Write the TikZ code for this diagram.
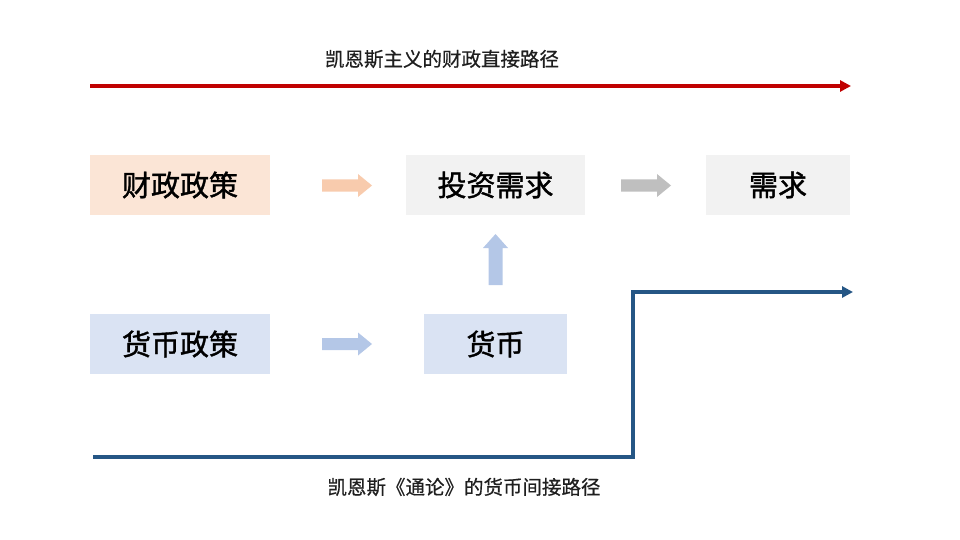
\documentclass[tikz,border=0pt]{standalone}
\usepackage{fontspec}
\newfontfamily\cjkbox[FakeBold=1.3]{Noto Sans CJK SC}
\newfontfamily\cjklab[FakeBold=0.6]{Noto Sans CJK SC}
\usetikzlibrary{arrows.meta}
\definecolor{peachbox}{HTML}{FBE5D6}
\definecolor{peacharr}{HTML}{F8CBAD}
\definecolor{graybox}{HTML}{F2F2F2}
\definecolor{grayarr}{HTML}{BFBFBF}
\definecolor{bluebox}{HTML}{DAE3F3}
\definecolor{bluearr}{HTML}{B4C7E7}
\definecolor{redline}{HTML}{C00000}
\definecolor{navyline}{HTML}{255685}
\tikzset{
  boxnode/.style={minimum height=60pt, inner sep=0pt, font=\cjkbox\fontsize{29}{34}\selectfont, text=black},
  pathlabel/.style={font=\cjklab\fontsize{19.5}{24}\selectfont, text=black!88, inner sep=0pt},
  bigline/.style={line width=3.6pt, -{Triangle[length=11pt,width=11pt]}},
}
\begin{document}
\begin{tikzpicture}[x=1pt,y=-1pt]
\useasboundingbox (0,0) rectangle (960,540);
% boxes
\node[boxnode, fill=peachbox, minimum width=180pt] (fiscal) at (180,185) {财政政策};
\node[boxnode, fill=graybox, minimum width=179pt] (invest) at (495.5,185) {投资需求};
\node[boxnode, fill=graybox, minimum width=144pt] (demand) at (778,185) {需求};
\node[boxnode, fill=bluebox, minimum width=180pt] (monpol) at (180,344) {货币政策};
\node[boxnode, fill=bluebox, minimum width=143pt] (money) at (495.5,344) {货币};
% block arrows
\coordinate (a1) at (322,185.5);
\coordinate (a2) at (621,185.5);
\coordinate (a3) at (322,344);
\fill[peacharr] (a1)++(0,-6) -- ++(36,0) -- ++(0,-5.5) -- ++(14,11.5) -- ++(-14,11.5) -- ++(0,-5.5) -- ++(-36,0) -- cycle;
\fill[grayarr] (a2)++(0,-6) -- ++(36,0) -- ++(0,-5.5) -- ++(14,11.5) -- ++(-14,11.5) -- ++(0,-5.5) -- ++(-36,0) -- cycle;
\fill[bluearr] (a3)++(0,-6) -- ++(36,0) -- ++(0,-5.5) -- ++(14,11.5) -- ++(-14,11.5) -- ++(0,-5.5) -- ++(-36,0) -- cycle;
\coordinate (up) at (495.5,285);
\fill[bluearr] (up)++(-7,0) -- ++(0,-37) -- ++(-5.5,0) -- ++(12.5,-14) -- ++(12.5,14) -- ++(-5.5,0) -- ++(0,37) -- cycle;
% red direct path
\coordinate (rs) at (90,86);
\coordinate (re) at (851,86);
\draw[bigline, draw=redline] (rs) -- (re);
\node[pathlabel] (toplabel) at (442,59) {凯恩斯主义的财政直接路径};
% navy indirect path
\coordinate (bs) at (93,457);
\coordinate (bc) at (633,292);
\coordinate (be) at (853,292);
\draw[bigline, draw=navyline, line join=miter] (bs) -| (bc) -- (be);
\node[pathlabel] (botlabel) at (464,487) {凯恩斯《通论》的货币间接路径};
\end{tikzpicture}
\end{document}
